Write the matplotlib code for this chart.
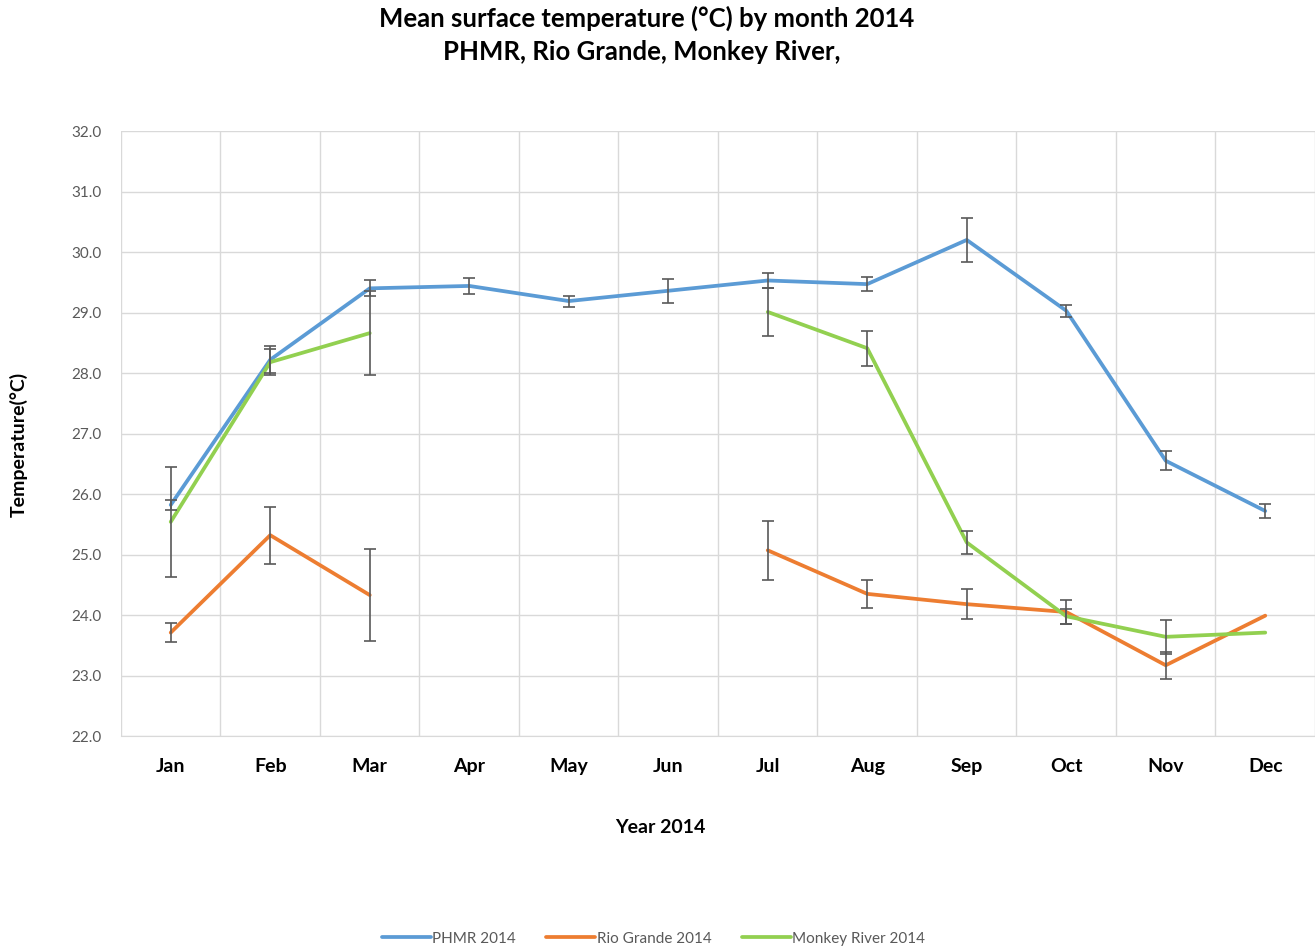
import numpy as np
from matplotlib import pyplot as plt

nan = np.nan
months = ['Jan', 'Feb', 'Mar', 'Apr', 'May', 'Jun', 'Jul', 'Aug', 'Sep', 'Oct', 'Nov', 'Dec']

phmr = [25.82, 28.22, 29.40, 29.44, 29.19, 29.36, 29.53, 29.47, 30.20, 29.03, 26.55, 25.72]
phmr_err = [0.08, 0.22, 0.13, 0.13, 0.09, 0.20, 0.13, 0.12, 0.37, 0.10, 0.16, 0.12]

rio = [23.71, 25.32, 24.33, nan, nan, nan, 25.07, 24.35, 24.18, 24.05, 23.17, 23.99]
rio_err = [0.16, 0.47, 0.76, nan, nan, nan, 0.49, 0.23, 0.25, 0.20, 0.22, 0.0]

monkey = [25.54, 28.18, 28.66, nan, nan, nan, 29.01, 28.41, 25.20, 23.98, 23.64, 23.71]
monkey_err = [0.91, 0.22, 0.70, nan, nan, nan, 0.40, 0.29, 0.19, 0.12, 0.28, 0.0]

series = [('PHMR 2014', phmr, phmr_err, '#5B9BD5'),
          ('Rio Grande 2014', rio, rio_err, '#ED7D31'),
          ('Monkey River 2014', monkey, monkey_err, '#92D050')]

plt.rcParams['font.family'] = ['Lato', 'DejaVu Sans']

fig = plt.figure(figsize=(13.15, 9.49), dpi=100)
ax = fig.add_axes([0.092, 0.2244, 0.908, 0.6375])

x = np.arange(len(months))
handles = []
for name, vals, err, col in series:
    vals = np.array(vals, dtype=float)
    err = np.array(err, dtype=float)
    h, = ax.plot(x, vals, color=col, lw=2.7, label=name, zorder=3, solid_capstyle='round')
    handles.append(h)
    ok = ~np.isnan(vals) & (np.nan_to_num(err) > 0)
    ax.errorbar(x[ok], vals[ok], yerr=err[ok], fmt='none', ecolor='#595959',
                elinewidth=1.2, capsize=4, capthick=1.2, zorder=4)

ax.set_xlim(-0.5, 11.5)
ax.set_ylim(22, 32)
ax.set_yticks(np.arange(22, 32.1, 1))
ax.set_yticklabels(['%.1f' % v for v in np.arange(22, 32.1, 1)])
ax.set_xticks(x)
ax.set_xticklabels(months, fontweight='bold', fontsize=14)
ax.set_xticks(np.arange(-0.5, 12, 1), minor=True)
ax.grid(axis='y', color='#d9d9d9', lw=1)
ax.grid(axis='x', which='minor', color='#d9d9d9', lw=1)
ax.set_axisbelow(True)
ax.tick_params(axis='both', which='both', length=0)
ax.tick_params(axis='y', labelsize=11, labelcolor='#595959', pad=14)
ax.tick_params(axis='x', pad=16)
for s in ['top', 'right', 'left']:
    ax.spines[s].set_visible(False)
ax.spines['bottom'].set_color('#d9d9d9')

fig.text(0.502, 0.128, 'Year 2014', ha='center', va='center', fontweight='bold', fontsize=14)
fig.text(0.014, 0.5315, 'Temperature(°C)', ha='center', va='center', rotation=90,
         fontweight='bold', fontsize=14)

fig.text(0.492, 0.981, 'Mean surface temperature (°C) by month 2014', ha='center', va='center',
         fontsize=18.5, fontweight='bold')
fig.text(0.488, 0.945, 'PHMR, Rio Grande, Monkey River,', ha='center', va='center',
         fontsize=18.5, fontweight='bold')

leg = fig.legend(handles=handles, loc='center', bbox_to_anchor=(0.497, 0.011), ncol=3,
                 frameon=False, fontsize=11, handlelength=3.2, handletextpad=0.1,
                 columnspacing=2.0)
for t in leg.get_texts():
    t.set_color('#595959')

fig.savefig('out.png', dpi=100)
